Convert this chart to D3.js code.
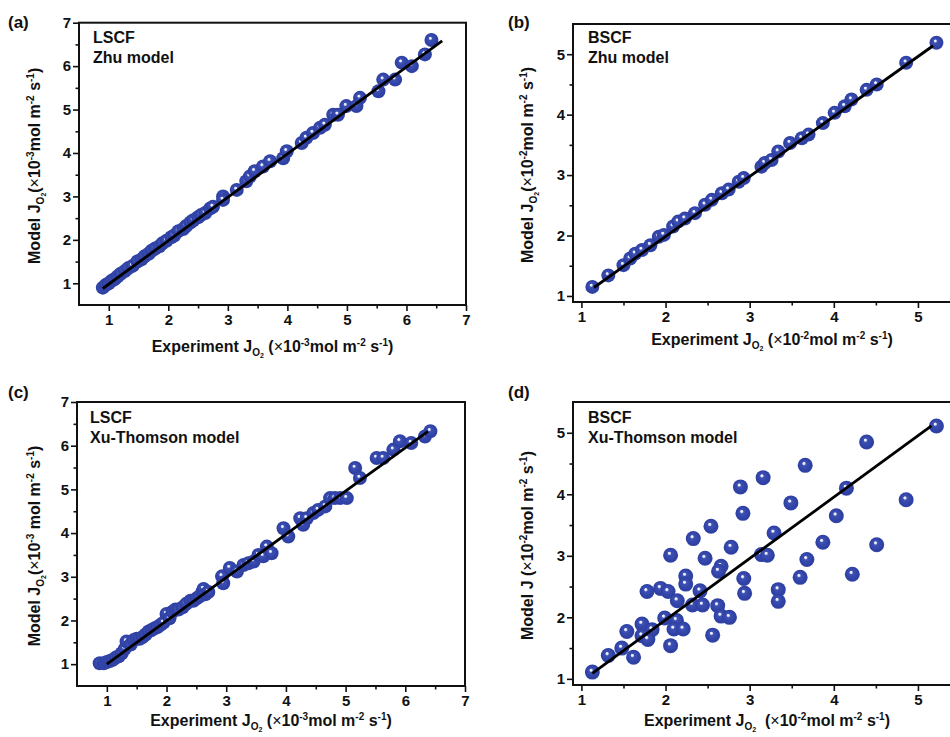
<!DOCTYPE html>
<html><head><meta charset="utf-8">
<script src="https://cdn.jsdelivr.net/npm/d3@7"></script>
<style>
body{margin:0;background:#fff}
svg{display:block}
text{font-family:"Liberation Sans",Arial,sans-serif;font-weight:bold;fill:#111}
</style>
</head><body>
<svg id="chart" width="950" height="737"></svg>
<script>
// ---------------- data ----------------
const ticksLSCF = [1,2,3,4,5,6,7];
const minorLSCF = [1.5,2.5,3.5,4.5,5.5,6.5];
const ticksBSCF = [1,2,3,4,5];
const minorBSCF = [1.5,2.5,3.5,4.5,5.5];

// (a) LSCF, Zhu model
const aExp   = [0.9,0.95,1.0,1.05,1.1,1.15,1.2,1.27,1.33,1.4,1.48,1.55,1.6,1.67,1.72,1.78,1.85,1.9,1.97,2.05,2.1,2.17,2.25,2.3,2.37,2.42,2.5,2.55,2.62,2.7,2.75,
                2.92,2.92,3.15,3.31,3.37,3.45,3.59,3.71,3.93,3.99,4.24,4.32,4.43,4.55,4.63,4.77,4.85,4.99,5.16,5.22,5.53,5.61,5.81,5.92,6.09,6.31,6.42];
const aModel = [0.9,0.96,1.0,1.06,1.1,1.16,1.22,1.28,1.35,1.4,1.5,1.55,1.62,1.68,1.75,1.8,1.85,1.92,1.98,2.06,2.1,2.2,2.25,2.32,2.4,2.45,2.52,2.57,2.62,2.72,2.76,
                3.0,2.92,3.15,3.35,3.46,3.58,3.69,3.81,3.88,4.04,4.23,4.35,4.46,4.58,4.65,4.88,4.88,5.08,5.08,5.27,5.42,5.69,5.69,6.08,6.0,6.27,6.6];
const aFit = [[0.9,0.88],[6.6,6.58]];

// (b) BSCF, Zhu model
const bExp   = [1.13,1.32,1.5,1.58,1.64,1.72,1.82,1.92,1.98,2.09,2.15,2.23,2.35,2.47,2.55,2.67,2.75,2.87,2.93,3.14,3.18,3.26,3.34,3.48,3.62,3.7,3.87,4.01,4.13,4.21,4.39,4.51,4.86,5.22];
const bModel = [1.15,1.34,1.51,1.62,1.7,1.76,1.84,1.98,2.01,2.15,2.23,2.28,2.37,2.51,2.59,2.7,2.76,2.89,2.95,3.14,3.2,3.25,3.39,3.53,3.61,3.67,3.86,4.03,4.14,4.25,4.41,4.5,4.86,5.19];
const bFit = [[1.15,1.14],[5.18,5.14]];

// (c) LSCF, Xu-Thomson model
const cExp   = [0.88,0.95,1.0,1.05,1.1,1.15,1.2,1.25,1.3,1.33,1.4,1.45,1.5,1.55,1.6,1.65,1.7,1.75,1.8,1.85,1.9,1.95,2.0,2.05,2.1,2.15,2.2,2.27,2.33,2.4,2.45,2.5,2.55,2.6,2.62,2.65,2.7,
                2.93,2.95,3.06,3.18,3.29,3.37,3.46,3.54,3.62,3.68,3.76,3.96,4.04,4.24,4.29,4.35,4.46,4.54,4.66,4.74,4.82,4.91,5.02,5.16,5.24,5.52,5.63,5.8,5.91,6.1,6.33,6.42];
const cModel = [1.02,1.02,1.05,1.07,1.1,1.15,1.18,1.25,1.35,1.52,1.45,1.55,1.58,1.58,1.62,1.68,1.75,1.78,1.82,1.85,1.9,1.95,2.15,2.05,2.2,2.25,2.25,2.3,2.38,2.45,2.45,2.5,2.55,2.65,2.72,2.6,2.65,
                3.01,2.85,3.2,3.12,3.27,3.31,3.35,3.5,3.47,3.69,3.54,4.11,3.92,4.34,4.19,4.34,4.46,4.53,4.61,4.8,4.8,4.8,4.8,5.49,5.26,5.72,5.72,5.91,6.1,6.06,6.21,6.33];
const cFit = [[1.0,1.0],[6.38,6.33]];

// (d) BSCF, Xu-Thomson model
const dExp   = [5.22,4.39,3.66,3.16,2.89,4.86,3.49,4.15,2.92,4.03,2.54,3.29,2.33,2.78,3.87,4.51,2.06,3.14,3.21,2.47,3.68,2.66,2.63,2.24,2.93,3.6,4.22,2.24,2.41,1.94,2.03,1.78,2.94,3.34,3.34,2.14,2.32,2.44,2.62,2.66,2.76,1.99,2.13,1.72,1.54,1.84,2.1,2.21,1.72,1.79,2.56,2.06,1.48,1.32,1.62,1.13];
const dModel = [5.11,4.85,4.47,4.27,4.12,3.91,3.86,4.1,3.69,3.65,3.48,3.37,3.28,3.14,3.22,3.18,3.01,3.02,3.01,2.96,2.94,2.83,2.75,2.67,2.63,2.65,2.7,2.54,2.43,2.47,2.42,2.42,2.39,2.45,2.26,2.27,2.2,2.2,2.19,2.02,2.0,1.99,1.95,1.89,1.77,1.8,1.81,1.81,1.7,1.64,1.71,1.54,1.5,1.38,1.35,1.11];
const dFit = [[1.13,1.09],[5.16,5.11]];

// ---------------- text ----------------
const sub = (t)=>({t, dy:4, s:10});
const subsub = (t)=>({t, dy:6, s:7});
const sup = (t)=>({t, dy:-6, s:10});
const n = (t)=>({t, dy:0, s:16});
const times = {t:"\u00d7", dy:0, s:16, w:"normal"};
function unitParts(exp, spaceAfter){
  return [n("("), times, n("10"), sup(exp), n((spaceAfter?" ":"")+"mol m"), sup("-2"), n(" s"), sup("-1"), n(")")];
}
const labels = {
  a:{tag:"(a)", l1:"LSCF", l2:"Zhu model",
     y:[n("Model J"), sub("O"), subsub("2"), ...unitParts("-3",false)],
     x:[n("Experiment J"), sub("O"), subsub("2"), n(" "), ...unitParts("-3",false)]},
  b:{tag:"(b)", l1:"BSCF", l2:"Zhu model",
     y:[n("Model J"), sub("O"), subsub("2"), ...unitParts("-2",false)],
     x:[n("Experiment J"), sub("O"), subsub("2"), n(" "), ...unitParts("-2",false)]},
  c:{tag:"(c)", l1:"LSCF", l2:"Xu-Thomson model",
     y:[n("Model J"), sub("O"), subsub("2"), ...unitParts("-3",true)],
     x:[n("Experiment J"), sub("O"), subsub("2"), n(" "), ...unitParts("-3",false)]},
  d:{tag:"(d)", l1:"BSCF", l2:"Xu-Thomson model",
     y:[n("Model J "), ...unitParts("-2",false)],
     x:[n("Experiment J"), sub("O"), subsub("2"), n("  "), ...unitParts("-2",false)]}
};

// ---------------- layout ----------------
const panels = [
  {key:"a", xs:aExp, ys:aModel, fit:aFit, ticks:ticksLSCF, minor:minorLSCF, xd:[0.5,7], yd:[0.5,7],
   L:79, R:466, T:22.7, B:305, tagX:8, tagY:28, txtX:93, txtY:43, yLabX:40, xLabY:352, r:7},
  {key:"b", xs:bExp, ys:bModel, fit:bFit, ticks:ticksBSCF, minor:minorBSCF, xd:[0.9,5.5], yd:[0.9,5.5],
   L:573, R:960, T:24, B:302, tagX:508, tagY:28, txtX:588, txtY:43, yLabX:533, xLabY:345, xLabC:772, r:7},
  {key:"c", xs:cExp, ys:cModel, fit:cFit, ticks:ticksLSCF, minor:minorLSCF, xd:[0.5,7], yd:[0.5,7],
   L:77, R:465, T:402, B:686, tagX:8, tagY:398, txtX:90, txtY:423, yLabX:40, xLabY:726, r:7},
  {key:"d", xs:dExp, ys:dModel, fit:dFit, ticks:ticksBSCF, minor:minorBSCF, xd:[0.9,5.5], yd:[0.9,5.5],
   L:573, R:960, T:402, B:685, tagX:508, tagY:398, txtX:588, txtY:423, yLabX:533, xLabY:726, xLabC:767, r:7.5}
];

const svg = d3.select("#chart");
svg.append("rect").attr("width",950).attr("height",737).attr("fill","#fff");

const defs = svg.append("defs");
const g = defs.append("radialGradient").attr("id","ball")
  .attr("cx","0.5").attr("cy","0.5").attr("r","0.55").attr("fx","0.4").attr("fy","0.35");
g.append("stop").attr("offset","0").attr("stop-color","#ffffff");
g.append("stop").attr("offset","0.13").attr("stop-color","#dfe3f5");
g.append("stop").attr("offset","0.25").attr("stop-color","#3d50b4");
g.append("stop").attr("offset","0.8").attr("stop-color","#2e3fa2");
g.append("stop").attr("offset","1").attr("stop-color","#3a4cb0");

function rich(sel, parts){
  let cur = 0;
  parts.forEach(p=>{
    sel.append("tspan").attr("dy", p.dy - cur).attr("font-size", p.s)
      .attr("font-weight", p.w || "bold").style("white-space","pre").text(p.t);
    cur = p.dy;
  });
}

panels.forEach(p=>{
  const lab = labels[p.key];
  const x = d3.scaleLinear().domain(p.xd).range([p.L, p.R]);
  const y = d3.scaleLinear().domain(p.yd).range([p.B, p.T]);
  const G = svg.append("g");

  // points
  const pts = d3.zip(p.xs, p.ys);
  G.append("g").selectAll("circle").data(pts).join("circle")
    .attr("cx", d=>x(d[0])).attr("cy", d=>y(d[1])).attr("r", p.r)
    .attr("fill","url(#ball)");

  // fit line
  G.append("path").datum(p.fit)
    .attr("d", d3.line().x(d=>x(d[0])).y(d=>y(d[1])))
    .attr("stroke","#000").attr("stroke-width",2.8).attr("fill","none");

  // frame
  G.append("rect").attr("x",p.L).attr("y",p.T).attr("width",p.R-p.L).attr("height",p.B-p.T)
    .attr("fill","none").attr("stroke","#111").attr("stroke-width",2);

  // axes
  const ax = G.append("g").attr("transform",`translate(0,${p.B})`)
    .call(d3.axisBottom(x).tickValues(p.ticks).tickSize(6).tickPadding(3).tickFormat(d3.format("d")));
  const axm = G.append("g").attr("transform",`translate(0,${p.B})`)
    .call(d3.axisBottom(x).tickValues(p.minor).tickSize(3.5).tickFormat(""));
  const ay = G.append("g").attr("transform",`translate(${p.L},0)`)
    .call(d3.axisLeft(y).tickValues(p.ticks.filter(v=>v<=p.yd[1])).tickSize(6).tickPadding(2).tickFormat(d3.format("d")));
  const aym = G.append("g").attr("transform",`translate(${p.L},0)`)
    .call(d3.axisLeft(y).tickValues(p.minor.filter(v=>v<p.yd[1])).tickSize(3.5).tickFormat(""));
  [ax,axm,ay,aym].forEach(a=>{
    a.select(".domain").remove();
    a.selectAll("line").attr("stroke","#111").attr("stroke-width",1.6);
    a.selectAll("text").attr("font-size",15).attr("font-family",'"Liberation Sans",Arial,sans-serif')
      .attr("font-weight","bold").attr("fill","#111");
  });

  // tag
  G.append("text").attr("x",p.tagX).attr("y",p.tagY).attr("font-size",17).text(lab.tag);
  G.append("text").attr("x",p.txtX).attr("y",p.txtY).attr("font-size",16).text(lab.l1);
  G.append("text").attr("x",p.txtX).attr("y",p.txtY+20).attr("font-size",16).text(lab.l2);

  // axis labels
  const cx = p.xLabC || (p.L+p.R)/2;
  rich(G.append("text").attr("x",cx).attr("y",p.xLabY).attr("text-anchor","middle"), lab.x);
  const cy = (p.T+p.B)/2 + 2;
  rich(G.append("text").attr("transform",`translate(${p.yLabX},${cy}) rotate(-90)`).attr("text-anchor","middle"), lab.y);
});
</script>
</body></html>
